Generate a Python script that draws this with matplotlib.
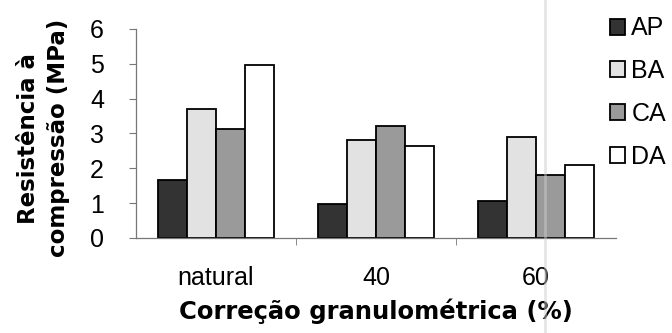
import numpy as np
import matplotlib
matplotlib.use("Agg")
import matplotlib.pyplot as plt
from matplotlib.lines import Line2D

plt.rcParams["font.family"] = ["Liberation Sans", "DejaVu Sans"]

categories = ["natural", "40", "60"]
series = ["AP", "BA", "CA", "DA"]
AP = [1.67, 0.98, 1.07]
BA = [3.70, 2.80, 2.90]
CA = [3.13, 3.22, 1.82]
DA = [4.98, 2.64, 2.10]
colors = ["#333333", "#e2e2e2", "#9a9a9a", "#ffffff"]

fig = plt.figure(figsize=(6.72, 3.33), dpi=100)
ax = fig.add_axes([0.2024, 0.2853, 0.7143, 0.6277])

x = np.arange(len(categories))
w = 0.18
for i, (name, vals) in enumerate(zip(series, [AP, BA, CA, DA])):
    ax.bar(x + (i - 1.5) * w, vals, w, color=colors[i], edgecolor="black",
           linewidth=1.3, label=name)

ax.set_xlim(-0.5, 2.5)
ax.set_ylim(0, 6)
ax.set_yticks(range(7))
ax.tick_params(axis="y", labelsize=18, length=5, pad=18, color="#777777")
ax.set_xticks([0.5, 1.5], minor=True)
ax.set_xticks(x)
ax.set_xticklabels(categories, fontsize=18)
ax.tick_params(axis="x", which="major", length=0, pad=20)
ax.tick_params(axis="x", which="minor", length=5, color="#777777")

for s in ["top", "right"]:
    ax.spines[s].set_visible(False)
for s in ["left", "bottom"]:
    ax.spines[s].set_color("#777777")
    ax.spines[s].set_linewidth(0.9)

ax.set_ylabel("Resistência à\ncompressão (MPa)", fontsize=16.5,
              fontfamily="DejaVu Sans", fontweight="bold", linespacing=1.4)
ax.yaxis.set_label_coords(-0.1375, 0.478)
ax.set_xlabel("Correção granulométrica (%)", fontsize=17.5,
              fontfamily="DejaVu Sans", fontweight="bold", labelpad=6)

ax.legend(loc="upper left", bbox_to_anchor=(0.9875, 1.06), frameon=False,
          fontsize=18, handlelength=0.6, handleheight=0.6, borderpad=0,
          handletextpad=0.25, labelspacing=0.75, borderaxespad=0)

# faint crease down the page
fig.add_artist(Line2D([0.811, 0.811], [0, 1], transform=fig.transFigure,
                      color="#cccccc", linewidth=2.0, alpha=0.5))

fig.savefig("out.png", dpi=100)
